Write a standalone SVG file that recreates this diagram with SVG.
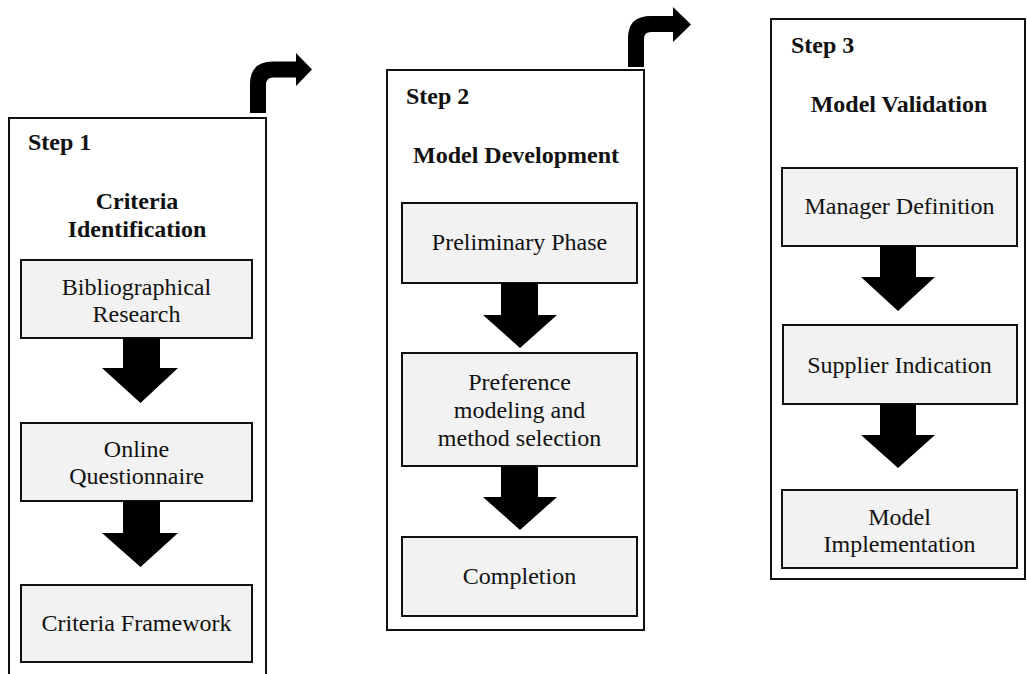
<svg xmlns="http://www.w3.org/2000/svg" width="1027" height="674" viewBox="0 0 1027 674">
<style>
.outer{fill:#fff;stroke:#111;stroke-width:2}
.box{fill:#f2f2f2;stroke:#111;stroke-width:2}
.t{font-family:"Liberation Serif","Times New Roman",serif;font-size:24px;fill:#111;text-anchor:middle}
.b{font-family:"Liberation Serif","Times New Roman",serif;font-size:24px;font-weight:bold;fill:#111}
.arr{fill:#000}
</style>
<rect width="1027" height="674" fill="#fff"/>
<g id="step1">
<rect class="outer" x="9" y="118" width="257" height="570"/>
<text class="b" x="28" y="150">Step 1</text>
<text class="b" x="137" y="209" text-anchor="middle">Criteria</text>
<text class="b" x="137" y="237" text-anchor="middle">Identification</text>
</g>
<g id="step2">
<rect class="outer" x="387" y="70" width="257" height="560"/>
<text class="b" x="406" y="104">Step 2</text>
<text class="b" x="516" y="163" text-anchor="middle">Model Development</text>
</g>
<g id="step3">
<rect class="outer" x="771" y="19" width="254" height="560"/>
<text class="b" x="791" y="53">Step 3</text>
<text class="b" x="899" y="112" text-anchor="middle">Model Validation</text>
</g>
<g id="n-biblio">
<rect class="box" x="21" y="260" width="231" height="78"/>
<text class="t" x="136.5" y="295">Bibliographical</text>
<text class="t" x="136.5" y="322">Research</text>
</g>
<g id="n-online">
<rect class="box" x="21" y="423" width="231" height="78"/>
<text class="t" x="136.5" y="457">Online</text>
<text class="t" x="136.5" y="484">Questionnaire</text>
</g>
<g id="n-framework">
<rect class="box" x="21" y="585" width="231" height="77"/>
<text class="t" x="136.5" y="631">Criteria Framework</text>
</g>
<g id="n-prelim">
<rect class="box" x="402" y="203" width="235" height="80"/>
<text class="t" x="519.5" y="250">Preliminary Phase</text>
</g>
<g id="n-pref">
<rect class="box" x="402" y="353" width="235" height="113"/>
<text class="t" x="519.5" y="390">Preference</text>
<text class="t" x="519.5" y="418">modeling and</text>
<text class="t" x="519.5" y="446">method selection</text>
</g>
<g id="n-completion">
<rect class="box" x="402" y="537" width="235" height="79"/>
<text class="t" x="519.5" y="584">Completion</text>
</g>
<g id="n-manager">
<rect class="box" x="782" y="168" width="235" height="78"/>
<text class="t" x="899.5" y="214">Manager Definition</text>
</g>
<g id="n-supplier">
<rect class="box" x="783" y="325" width="234" height="79"/>
<text class="t" x="899.5" y="373">Supplier Indication</text>
</g>
<g id="n-impl">
<rect class="box" x="782" y="490" width="235" height="78"/>
<text class="t" x="899.5" y="525">Model</text>
<text class="t" x="899.5" y="552">Implementation</text>
</g>
<g id="connectors">
<path class="arr" d="M123,338 H160 V368 H178 L140.5,403 L102,368 H123 Z"/>
<path class="arr" d="M123,501 H160 V533 H178 L140.5,567 L102,533 H123 Z"/>
<path class="arr" d="M501,283 H538 V315 H557 L520,348 L483,315 H501 Z"/>
<path class="arr" d="M501,466 H538 V497 H557 L520,530 L483,497 H501 Z"/>
<path class="arr" d="M880,246 H916 V277 H935 L898,311 L861,277 H880 Z"/>
<path class="arr" d="M880,404 H916 V435 H935 L898,468 L861,435 H880 Z"/>
<path class="arr" d="M250,113 V84 Q250,61.5 273,61.5 H296 V53 L312,69.5 L296,86 V77.5 H273 Q266,77.5 266,85 V113 Z"/>
<path class="arr" d="M628,67 V38 Q628,16 651,16 H673 V7 L691,24.5 L673,42 V32 H651 Q644,32 644,39 V67 Z"/>
</g>
</svg>
